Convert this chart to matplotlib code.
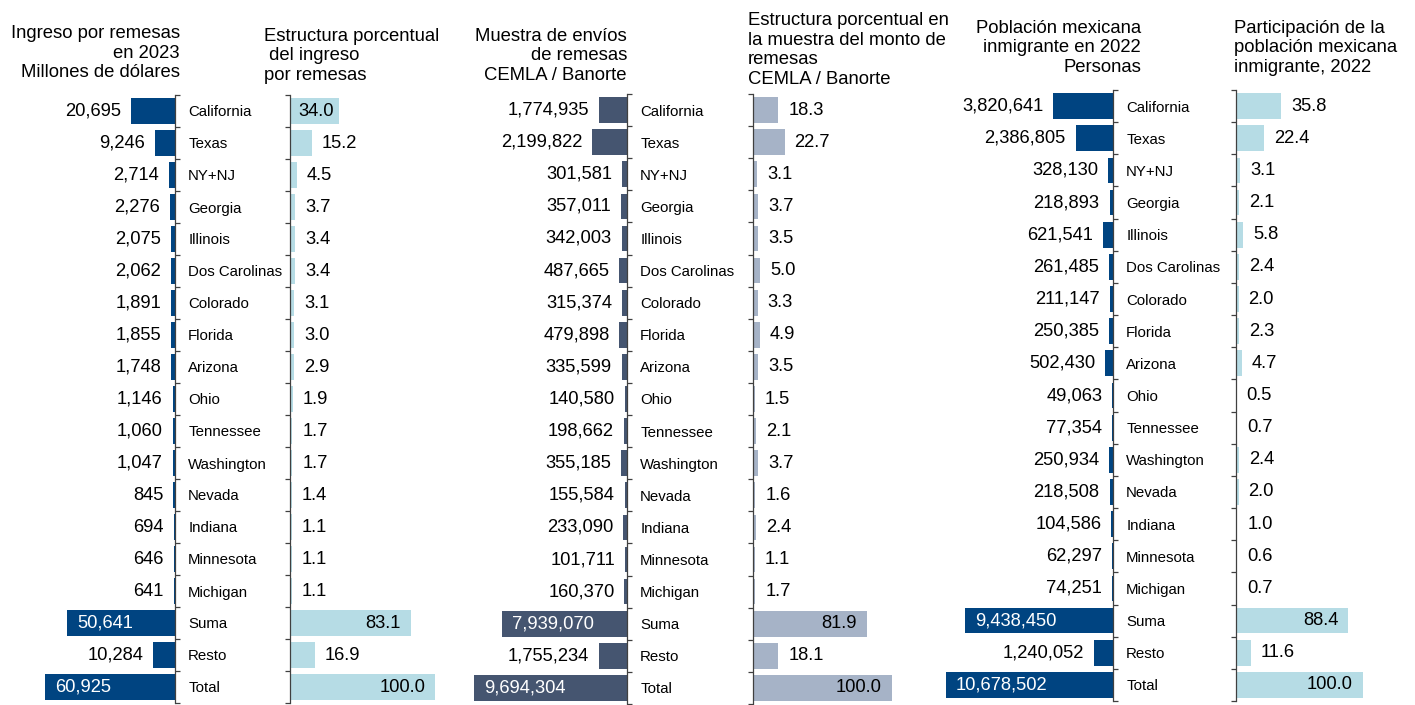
import numpy as np
import matplotlib
matplotlib.use("Agg")
import matplotlib.pyplot as plt

plt.rcParams['font.family'] = ['Liberation Sans', 'DejaVu Sans']

W, H = 1415, 705

states = ["California", "Texas", "NY+NJ", "Georgia", "Illinois", "Dos Carolinas",
          "Colorado", "Florida", "Arizona", "Ohio", "Tennessee", "Washington",
          "Nevada", "Indiana", "Minnesota", "Michigan", "Suma", "Resto", "Total"]

ingreso = [20695, 9246, 2714, 2276, 2075, 2062, 1891, 1855, 1748, 1146, 1060,
           1047, 845, 694, 646, 641, 50641, 10284, 60925]
ingreso_pct = [34.0, 15.2, 4.5, 3.7, 3.4, 3.4, 3.1, 3.0, 2.9, 1.9, 1.7, 1.7,
               1.4, 1.1, 1.1, 1.1, 83.1, 16.9, 100.0]

muestra = [1774935, 2199822, 301581, 357011, 342003, 487665, 315374, 479898,
           335599, 140580, 198662, 355185, 155584, 233090, 101711, 160370,
           7939070, 1755234, 9694304]
muestra_pct = [18.3, 22.7, 3.1, 3.7, 3.5, 5.0, 3.3, 4.9, 3.5, 1.5, 2.1, 3.7,
               1.6, 2.4, 1.1, 1.7, 81.9, 18.1, 100.0]

poblacion = [3820641, 2386805, 328130, 218893, 621541, 261485, 211147, 250385,
             502430, 49063, 77354, 250934, 218508, 104586, 62297, 74251,
             9438450, 1240052, 10678502]
poblacion_pct = [35.8, 22.4, 3.1, 2.1, 5.8, 2.4, 2.0, 2.3, 4.7, 0.5, 0.7, 2.4,
                 2.0, 1.0, 0.6, 0.7, 88.4, 11.6, 100.0]

titles_left = ["Ingreso por remesas\nen 2023\nMillones de dólares",
               "Muestra de envíos\nde remesas\nCEMLA / Banorte",
               "Población mexicana\ninmigrante en 2022\nPersonas"]
titles_right = ["Estructura porcentual\n del ingreso\npor remesas",
                "Estructura porcentual en\nla muestra del monto de\nremesas\nCEMLA / Banorte",
                "Participación de la\npoblación mexicana\ninmigrante, 2022"]

DARK_BLUE = "#004481"
LIGHT_BLUE = "#B6DCE5"
DARK_SLATE = "#455570"
LIGHT_SLATE = "#A6B3C7"
SPINE = "#404040"

fig = plt.figure(figsize=(W / 100, H / 100), dpi=100)


def px_rect(l, t, r, b):
    return [l / W, 1 - b / H, (r - l) / W, (b - t) / H]


groups = [
    dict(vals=ingreso, pct=ingreso_pct, dark=DARK_BLUE, light=LIGHT_BLUE,
         left=(20, 175), right=(290, 450), top=95, bottom=703,
         lxmax=72600, rxmax=110.3, inside_r={0: 5, 16: 10, 18: 10},
         tl=(180, 53), tr=(264, 56)),
    dict(vals=muestra, pct=muestra_pct, dark=DARK_SLATE, light=LIGHT_SLATE,
         left=(465, 627), right=(753, 905), top=94, bottom=704,
         lxmax=10264600, rxmax=109.4, inside_r={16: 10, 18: 10},
         tl=(627, 56), tr=(748, 50)),
    dict(vals=poblacion, pct=poblacion_pct, dark=DARK_BLUE, light=LIGHT_BLUE,
         left=(940, 1113), right=(1236, 1380), top=90, bottom=701,
         lxmax=11062000, rxmax=113.4, inside_r={16: 10, 18: 10},
         tl=(1141, 48), tr=(1234, 48)),
]

inside_left = [16, 18]
n = len(states)
y = np.arange(n)

for gi, g in enumerate(groups):
    # Left axes (bars grow leftwards)
    axl = fig.add_axes(px_rect(g['left'][0], g['top'], g['left'][1], g['bottom']))
    axl.barh(y, g['vals'], height=0.8, color=g['dark'])
    axl.set_xlim(g['lxmax'], 0)
    axl.set_ylim(n - 0.5, -0.5)
    for s in ['top', 'bottom', 'left']:
        axl.spines[s].set_visible(False)
    axl.spines['right'].set_color(SPINE)
    axl.spines['right'].set_linewidth(0.9)
    axl.set_xticks([])
    axl.yaxis.tick_right()
    axl.set_yticks(y)
    axl.set_yticklabels(states, fontsize=10.8)
    axl.tick_params(axis='y', which='major', length=0, pad=9.5)
    axl.set_yticks(np.arange(-0.5, n, 1), minor=True)
    axl.tick_params(axis='y', which='minor', length=3.5, width=0.9,
                    direction='out', color=SPINE)
    for i, v in enumerate(g['vals']):
        if i in inside_left:
            axl.annotate(f"{v:,}", (v, i), xytext=(10, 0), textcoords='offset pixels',
                         ha='left', va='center', fontsize=13.2, color='white')
        else:
            axl.annotate(f"{v:,}", (v, i), xytext=(-10, 0), textcoords='offset pixels',
                         ha='right', va='center', fontsize=13.2, color='black')

    # Right axes (percentages)
    axr = fig.add_axes(px_rect(g['right'][0], g['top'], g['right'][1], g['bottom']))
    axr.barh(y, g['pct'], height=0.8, color=g['light'])
    axr.set_xlim(0, g['rxmax'])
    axr.set_ylim(n - 0.5, -0.5)
    for s in ['top', 'bottom', 'right']:
        axr.spines[s].set_visible(False)
    axr.spines['left'].set_color(SPINE)
    axr.spines['left'].set_linewidth(0.9)
    axr.set_xticks([])
    axr.set_yticks([])
    axr.set_yticks(np.arange(-0.5, n, 1), minor=True)
    axr.tick_params(axis='y', which='minor', length=3.5, width=0.9,
                    direction='out', color=SPINE)
    for i, v in enumerate(g['pct']):
        pad_in = g['inside_r'].get(i)
        if pad_in:
            axr.annotate(f"{v:.1f}", (v, i), xytext=(-pad_in, 0), textcoords='offset pixels',
                         ha='right', va='center', fontsize=13.2, color='black')
        else:
            axr.annotate(f"{v:.1f}", (v, i), xytext=(10, 0), textcoords='offset pixels',
                         ha='left', va='center', fontsize=13.2, color='black')

    # Titles
    fig.text(g['tl'][0] / W, 1 - g['tl'][1] / H, titles_left[gi], ha='right',
             va='center', fontsize=13.3, color='black')
    fig.text(g['tr'][0] / W, 1 - g['tr'][1] / H, titles_right[gi], ha='left',
             va='center', fontsize=13.3, color='black')

fig.savefig("out.png", dpi=100)
